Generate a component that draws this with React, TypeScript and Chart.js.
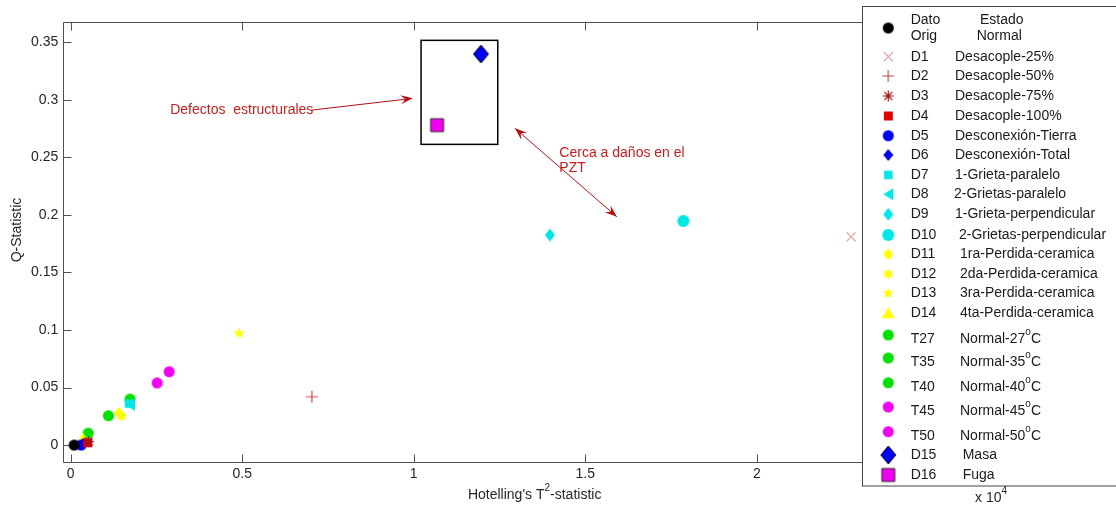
import React, { useEffect, useRef } from 'react';
import { Chart, registerables } from 'chart.js';

Chart.register(...registerables);

const FONT = '"Liberation Sans", Arial, Helvetica, sans-serif';

// ---------- DATA ----------
const seriesCodes = ['Dato Orig', 'D1', 'D2', 'D3', 'D4', 'D5', 'D6', 'D7', 'D8', 'D9', 'D10', 'D11', 'D12', 'D13', 'D14', 'T27', 'T35', 'T40', 'T45', 'T50', 'D15', 'D16'];
const seriesNames = ['Estado Normal', 'Desacople-25%', 'Desacople-50%', 'Desacople-75%', 'Desacople-100%', 'Desconexión-Tierra', 'Desconexión-Total', '1-Grieta-paralelo', '2-Grietas-paralelo', '1-Grieta-perpendicular', '2-Grietas-perpendicular', '1ra-Perdida-ceramica', '2da-Perdida-ceramica', '3ra-Perdida-ceramica', '4ta-Perdida-ceramica', 'Normal-27^oC', 'Normal-35^oC', 'Normal-40^oC', 'Normal-45^oC', 'Normal-50^oC', 'Masa', 'Fuga'];
// Hotelling's T^2 statistic (x 10^4)
const t2Values = [0.01, 2.275, 0.703, 0.052, 0.05, 0.03, 0.036, 0.17, 0.173, 1.397, 1.786, 0.141, 0.149, 0.491, 0.036, 0.051, 0.11, 0.173, 0.252, 0.287, 1.196, 1.068];
// Q statistic
const qValues = [0.0, 0.181, 0.042, 0.003, 0.002, 0.0, 0.001, 0.036, 0.035, 0.1825, 0.1947, 0.028, 0.025, 0.0971, 0.006, 0.0104, 0.0255, 0.040, 0.054, 0.0637, 0.3398, 0.278];

const xTickValues = [0, 0.5, 1, 1.5, 2, 2.5];
const xTickLabels = ['0', '0.5', '1', '1.5', '2', '2.5'];
const yTickValues = [0, 0.05, 0.1, 0.15, 0.2, 0.25, 0.3, 0.35];
const yTickLabels = ['0', '0.05', '0.1', '0.15', '0.2', '0.25', '0.3', '0.35'];

const X_MIN = -0.0216;
const X_MAX = 2.744;
const Y_MIN = -0.015;
const Y_MAX = 0.3679;

// ---------- STYLES ----------
type Shape = 'o' | 's' | 'd' | '^' | '<' | 'p' | 'h' | 'x' | '+' | '*';
interface MarkerSpec { shape: Shape; w: number; h: number; fill?: string; stroke?: string; lw?: number; }

const RED_X = '#c86464';
const CYAN = 'rgb(0,230,230)';
const YELLOW = '#ffff00';
const GREEN = 'rgb(0,225,0)';
const MAGENTA = 'rgb(240,0,240)';
const BLUE = 'rgb(0,0,245)';

const markerSpecs: MarkerSpec[] = [
  { shape: 'o', w: 11, h: 11, fill: '#000000' },
  { shape: 'x', w: 9, h: 9, stroke: RED_X, lw: 1 },
  { shape: '+', w: 12, h: 12, stroke: '#c04848', lw: 1.2 },
  { shape: '*', w: 11, h: 11, stroke: '#a01414', lw: 1.2 },
  { shape: 's', w: 9, h: 9, fill: '#e00000' },
  { shape: 'o', w: 11, h: 11, fill: BLUE },
  { shape: 'd', w: 10, h: 12, fill: BLUE },
  { shape: 's', w: 8.5, h: 8.5, fill: CYAN },
  { shape: '<', w: 10, h: 12, fill: CYAN },
  { shape: 'd', w: 10, h: 13, fill: CYAN },
  { shape: 'o', w: 12, h: 12, fill: CYAN },
  { shape: 'd', w: 10, h: 12, fill: YELLOW },
  { shape: 'h', w: 11, h: 11, fill: YELLOW },
  { shape: 'p', w: 12, h: 12, fill: YELLOW },
  { shape: '^', w: 13, h: 11, fill: YELLOW },
  { shape: 'o', w: 11, h: 11, fill: GREEN },
  { shape: 'o', w: 11, h: 11, fill: GREEN },
  { shape: 'o', w: 11, h: 11, fill: GREEN },
  { shape: 'o', w: 11, h: 11, fill: MAGENTA },
  { shape: 'o', w: 11, h: 11, fill: MAGENTA },
  { shape: 'd', w: 15, h: 18, fill: BLUE, stroke: '#000000', lw: 1 },
  { shape: 's', w: 13, h: 13, fill: MAGENTA, stroke: '#333333', lw: 1 },
];

// legend layout (pixels)
const LEGEND_BOX = { left: 862.5, top: 6.5, bottom: 486 };
const LEGEND_MARKER_X = 888.3;
const LEGEND_CODE_X = 910.7;
const legendRowY = [28, 56.7, 76, 96, 116, 135.7, 155, 175, 194.3, 214.3, 235, 254.3, 274, 293.3, 312.7, 335, 358, 382.7, 407, 431.7, 455, 475];
const legendNameX = [0, 955, 955, 955, 955, 955, 955, 955, 954, 955, 959, 960, 960, 960, 960, 960, 960, 960, 960, 960, 962.7, 962.7];

// annotations (data coordinates)
const annoBox = { x0: 1.0213, x1: 1.2449, y0: 0.3517, y1: 0.2613 };
const annoArrow1 = { x0: 0.703, y0: 0.2911, x1: 0.997, y1: 0.3013 };
const annoArrow2 = { x0: 1.2953, y0: 0.2752, x1: 1.5918, y1: 0.1984 };
const annoText1 = { text: 'Defectos  estructurales', x: 0.29, y: 0.2911 };
const annoText2 = { lines: ['Cerca a daños en el', 'PZT'], x: 1.4245, y: [0.254, 0.2405] };

function makeMarker(m: MarkerSpec): HTMLCanvasElement {
  const pad = 3;
  const w = Math.ceil(m.w + pad * 2);
  const h = Math.ceil(m.h + pad * 2);
  const c = document.createElement('canvas');
  c.width = w;
  c.height = h;
  const ctx = c.getContext('2d')!;
  const cx = w / 2, cy = h / 2, rx = m.w / 2, ry = m.h / 2;
  ctx.beginPath();
  const star = (n: number, inner: number) => {
    for (let i = 0; i < n * 2; i++) {
      const r = i % 2 === 0 ? rx : rx * inner;
      const a = -Math.PI / 2 + (i * Math.PI) / n;
      const px = cx + Math.cos(a) * r, py = cy + Math.sin(a) * r;
      if (i === 0) ctx.moveTo(px, py); else ctx.lineTo(px, py);
    }
    ctx.closePath();
  };
  switch (m.shape) {
    case 'o': ctx.ellipse(cx, cy, rx, ry, 0, 0, Math.PI * 2); break;
    case 's': ctx.rect(cx - rx, cy - ry, m.w, m.h); break;
    case 'd': ctx.moveTo(cx, cy - ry); ctx.lineTo(cx + rx, cy); ctx.lineTo(cx, cy + ry); ctx.lineTo(cx - rx, cy); ctx.closePath(); break;
    case '^': ctx.moveTo(cx, cy - ry); ctx.lineTo(cx + rx, cy + ry); ctx.lineTo(cx - rx, cy + ry); ctx.closePath(); break;
    case '<': ctx.moveTo(cx - rx, cy); ctx.lineTo(cx + rx, cy - ry); ctx.lineTo(cx + rx, cy + ry); ctx.closePath(); break;
    case 'p': star(5, 0.42); break;
    case 'h': star(6, 0.58); break;
    case 'x': ctx.moveTo(cx - rx, cy - ry); ctx.lineTo(cx + rx, cy + ry); ctx.moveTo(cx + rx, cy - ry); ctx.lineTo(cx - rx, cy + ry); break;
    case '+': ctx.moveTo(cx - rx, cy); ctx.lineTo(cx + rx, cy); ctx.moveTo(cx, cy - ry); ctx.lineTo(cx, cy + ry); break;
    case '*': {
      ctx.moveTo(cx - rx, cy); ctx.lineTo(cx + rx, cy); ctx.moveTo(cx, cy - ry); ctx.lineTo(cx, cy + ry);
      const d = rx * 0.72;
      ctx.moveTo(cx - d, cy - d); ctx.lineTo(cx + d, cy + d); ctx.moveTo(cx + d, cy - d); ctx.lineTo(cx - d, cy + d);
      break;
    }
  }
  if (m.fill) { ctx.fillStyle = m.fill; ctx.fill(); }
  if (m.stroke) { ctx.strokeStyle = m.stroke; ctx.lineWidth = m.lw || 1; ctx.stroke(); }
  return c;
}

function drawRich(ctx: CanvasRenderingContext2D, text: string, x: number, y: number, size: number, color: string, align: 'left' | 'center' = 'left') {
  const parts: { t: string; sup: boolean }[] = [];
  let buf = '';
  for (let i = 0; i < text.length; i++) {
    if (text[i] === '^' && i + 1 < text.length) {
      if (buf) parts.push({ t: buf, sup: false });
      buf = '';
      parts.push({ t: text[i + 1], sup: true });
      i++;
    } else buf += text[i];
  }
  if (buf) parts.push({ t: buf, sup: false });
  const supSize = Math.round(size * 0.72);
  const widths = parts.map((p) => {
    ctx.font = `${p.sup ? supSize : size}px ${FONT}`;
    return ctx.measureText(p.t).width;
  });
  const total = widths.reduce((a, b) => a + b, 0);
  let cx = align === 'center' ? x - total / 2 : x;
  ctx.fillStyle = color;
  ctx.textBaseline = 'middle';
  ctx.textAlign = 'left';
  parts.forEach((p, i) => {
    ctx.font = `${p.sup ? supSize : size}px ${FONT}`;
    ctx.fillText(p.t, cx, p.sup ? y - size * 0.45 : y);
    cx += widths[i];
  });
}

function arrowHead(ctx: CanvasRenderingContext2D, tx: number, ty: number, fx: number, fy: number, len = 12, halfW = 4.5) {
  const ang = Math.atan2(ty - fy, tx - fx);
  const ux = Math.cos(ang), uy = Math.sin(ang);
  const px = -uy, py = ux;
  const bx = tx - ux * len, by = ty - uy * len;
  const nx = tx - ux * len * 0.62, ny = ty - uy * len * 0.62;
  ctx.beginPath();
  ctx.moveTo(tx, ty);
  ctx.lineTo(bx + px * halfW, by + py * halfW);
  ctx.lineTo(nx, ny);
  ctx.lineTo(bx - px * halfW, by - py * halfW);
  ctx.closePath();
  ctx.fill();
}

export default function App() {
  const ref = useRef<HTMLCanvasElement | null>(null);

  useEffect(() => {
    if (!ref.current) return;
    const markerImgs = markerSpecs.map(makeMarker);
    const AXIS_COLOR = '#505050';
    const TEXT_COLOR = '#262626';
    const ANNO_TEXT = '#c41e1e';
    const ANNO_LINE = '#b01010';

    const framePlugin = {
      id: 'matlabFrame',
      beforeDatasetsDraw(chart: any) {
        const { ctx, chartArea } = chart;
        const { left, right, top, bottom } = chartArea;
        const xs = chart.scales.x, ys = chart.scales.y;
        ctx.save();
        ctx.strokeStyle = AXIS_COLOR;
        ctx.lineWidth = 1;
        const L = Math.round(left) + 0.5, R = Math.round(right) + 0.5, T = Math.round(top) + 0.5, B = Math.round(bottom) + 0.5;
        ctx.beginPath();
        ctx.rect(L, T, R - L, B - T);
        ctx.stroke();
        ctx.beginPath();
        const tl = 8;
        xTickValues.forEach((v) => {
          const px = Math.round(xs.getPixelForValue(v)) + 0.5;
          ctx.moveTo(px, B); ctx.lineTo(px, B - tl);
          ctx.moveTo(px, T); ctx.lineTo(px, T + tl);
        });
        yTickValues.forEach((v) => {
          const py = Math.round(ys.getPixelForValue(v)) + 0.5;
          ctx.moveTo(L, py); ctx.lineTo(L + tl, py);
          ctx.moveTo(R, py); ctx.lineTo(R - tl, py);
        });
        ctx.stroke();
        ctx.restore();
      },
      afterDatasetsDraw(chart: any) {
        const { ctx, chartArea } = chart;
        const xs = chart.scales.x, ys = chart.scales.y;
        const X = (v: number) => xs.getPixelForValue(v);
        const Y = (v: number) => ys.getPixelForValue(v);
        ctx.save();

        // annotation box
        ctx.strokeStyle = '#000000';
        ctx.lineWidth = 1.5;
        ctx.strokeRect(X(annoBox.x0), Y(annoBox.y0), X(annoBox.x1) - X(annoBox.x0), Y(annoBox.y1) - Y(annoBox.y0));

        // arrows
        ctx.strokeStyle = ANNO_LINE;
        ctx.fillStyle = ANNO_LINE;
        ctx.lineWidth = 1;
        const a1 = { x0: X(annoArrow1.x0), y0: Y(annoArrow1.y0), x1: X(annoArrow1.x1), y1: Y(annoArrow1.y1) };
        ctx.beginPath(); ctx.moveTo(a1.x0, a1.y0); ctx.lineTo(a1.x1 - 3, a1.y1 + 0.4); ctx.stroke();
        arrowHead(ctx, a1.x1, a1.y1, a1.x0, a1.y0);
        const a2 = { x0: X(annoArrow2.x0), y0: Y(annoArrow2.y0), x1: X(annoArrow2.x1), y1: Y(annoArrow2.y1) };
        ctx.beginPath(); ctx.moveTo(a2.x0, a2.y0); ctx.lineTo(a2.x1, a2.y1); ctx.stroke();
        arrowHead(ctx, a2.x1, a2.y1, a2.x0, a2.y0);
        arrowHead(ctx, a2.x0, a2.y0, a2.x1, a2.y1);

        // annotation texts
        drawRich(ctx, annoText1.text, X(annoText1.x), Y(annoText1.y), 14, ANNO_TEXT);
        annoText2.lines.forEach((ln, i) => drawRich(ctx, ln, X(annoText2.x), Y(annoText2.y[i]), 14, ANNO_TEXT));

        // axis titles
        drawRich(ctx, "Hotelling's T^2-statistic", (chartArea.left + chartArea.right) / 2 - 3, 495, 14, TEXT_COLOR, 'center');
        ctx.save();
        ctx.translate(17, 230);
        ctx.rotate(-Math.PI / 2);
        drawRich(ctx, 'Q-Statistic', 0, 0, 14, TEXT_COLOR, 'center');
        ctx.restore();

        // legend box
        ctx.fillStyle = '#ffffff';
        ctx.fillRect(LEGEND_BOX.left, LEGEND_BOX.top, 400, LEGEND_BOX.bottom - LEGEND_BOX.top);
        ctx.strokeStyle = '#444444';
        ctx.lineWidth = 1;
        ctx.strokeRect(LEGEND_BOX.left, LEGEND_BOX.top, 400, LEGEND_BOX.bottom - LEGEND_BOX.top);

        const LEG_TEXT = '#1a1a1a';
        seriesCodes.forEach((code, i) => {
          const img = markerImgs[i];
          const my = legendRowY[i];
          ctx.drawImage(img, LEGEND_MARKER_X - img.width / 2, my - img.height / 2);
          if (i === 0) {
            const [c1, c2] = code.split(' ');
            const [n1, n2] = seriesNames[i].split(' ');
            drawRich(ctx, c1, LEGEND_CODE_X, 20, 14, LEG_TEXT);
            drawRich(ctx, c2, LEGEND_CODE_X, 35.7, 14, LEG_TEXT);
            drawRich(ctx, n1, 980, 20, 14, LEG_TEXT);
            drawRich(ctx, n2, 976.7, 35.7, 14, LEG_TEXT);
          } else {
            const ty = seriesNames[i].includes('^') ? my + 4 : my;
            drawRich(ctx, code, LEGEND_CODE_X, ty, 14, LEG_TEXT);
            drawRich(ctx, seriesNames[i], legendNameX[i], ty, 14, LEG_TEXT);
          }
        });

        // exponent label
        drawRich(ctx, 'x 10^4', 975, 498, 14, TEXT_COLOR);
        ctx.restore();
      },
    };

    const datasets = seriesCodes.map((code, i) => ({
      label: code,
      data: [{ x: t2Values[i], y: qValues[i] }],
      pointStyle: markerImgs[i] as any,
      pointRadius: 6,
      showLine: false,
      order: i,
    }));

    const chart = new Chart(ref.current, {
      type: 'scatter',
      data: { datasets },
      options: {
        animation: false,
        responsive: false,
        maintainAspectRatio: false,
        events: [],
        layout: { padding: { left: 0, top: 21.7, right: 104, bottom: 0 } },
        plugins: { legend: { display: false }, tooltip: { enabled: false } },
        scales: {
          x: {
            type: 'linear',
            position: 'bottom',
            min: X_MIN,
            max: X_MAX,
            grid: { display: false, drawTicks: false },
            border: { display: false },
            afterBuildTicks: (s: any) => { s.ticks = xTickValues.map((v) => ({ value: v })); },
            afterFit: (s: any) => { s.height = 506 - 462.3; },
            ticks: {
              autoSkip: false,
              maxRotation: 0,
              padding: 3,
              color: TEXT_COLOR,
              font: { family: FONT, size: 14 },
              callback: (v: any) => { const k = xTickValues.indexOf(Number(v)); return k >= 0 ? xTickLabels[k] : ''; },
            },
          },
          y: {
            type: 'linear',
            min: Y_MIN,
            max: Y_MAX,
            grid: { display: false, drawTicks: false },
            border: { display: false },
            afterBuildTicks: (s: any) => { s.ticks = yTickValues.map((v) => ({ value: v })); },
            afterFit: (s: any) => { s.width = 63.3; },
            ticks: {
              autoSkip: false,
              padding: 5,
              color: TEXT_COLOR,
              font: { family: FONT, size: 14 },
              callback: (v: any) => { const k = yTickValues.indexOf(Number(v)); return k >= 0 ? yTickLabels[k] : ''; },
            },
          },
        },
      },
      plugins: [framePlugin],
    });
    return () => chart.destroy();
  }, []);

  return (
    <div style={{ position: 'absolute', left: 0, top: 0, width: 1116, height: 506, background: '#ffffff' }}>
      <canvas ref={ref} width={1116} height={506} style={{ display: 'block', width: 1116, height: 506 }} />
    </div>
  );
}
